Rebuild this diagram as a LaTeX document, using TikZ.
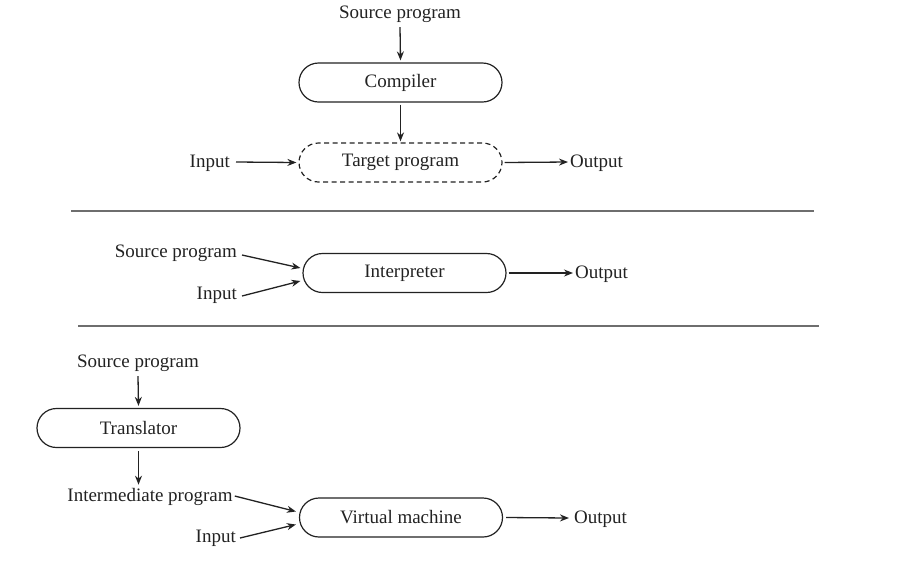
\documentclass[tikz,border=0pt]{standalone}
\usepackage{fontspec}
\setmainfont{Liberation Serif}
\usetikzlibrary{shapes.misc,arrows.meta}
\definecolor{ink}{HTML}{222222}
\definecolor{rule}{HTML}{6E6E6E}
\begin{document}
\begin{tikzpicture}[x=1pt,y=-1pt,
  every node/.style={text=ink,font=\fontsize{19}{22}\selectfont},
  proc/.style={rounded rectangle,draw=ink,line width=1.2pt,minimum width=203pt,minimum height=39pt,inner sep=0pt},
  lbl/.style={inner sep=0pt},
  arr/.style={draw=ink,line width=1.3pt,-{Stealth[length=9pt,width=7pt]}},
  sep/.style={draw=rule,line width=1.6pt}]
\useasboundingbox (0,0) rectangle (904,566);
% --- compiler
\node[lbl] (src1) at (400,14.5) {Source program};
\node[proc] (comp) at (400.5,82.5) {Compiler};
\node[proc,dashed,dash pattern=on 5pt off 3.5pt] (tgt) at (400.5,162.5) {Target program};
\node[lbl,anchor=east] (in1) at (230,163.5) {Input};
\node[lbl,anchor=west] (out1) at (570,163.5) {Output};
\draw[arr] ([yshift=-4pt]src1.south) -- ([yshift=2pt]comp.north);
\draw[arr] ([yshift=-2pt]comp.south) -- ([yshift=1pt]tgt.north);
\draw[arr] ([xshift=6pt,yshift=1.5pt]in1.east) -- ([xshift=-2pt]tgt.west);
\draw[arr] ([xshift=2pt]tgt.east) -- ([xshift=-2pt,yshift=1.5pt]out1.west);
% separator
\coordinate (r1a) at (71,211); \coordinate (r1b) at (814,211);
\draw[sep] (r1a) -- (r1b);
% --- interpreter
\node[proc] (interp) at (404.5,273) {Interpreter};
\node[lbl,anchor=east] (src2) at (237,253.5) {Source program};
\node[lbl,anchor=east] (in2) at (237,295.5) {Input};
\node[lbl,anchor=west] (out2) at (575,274.5) {Output};
\draw[arr] ([xshift=5pt,yshift=-1.5pt]src2.east) -- ([xshift=-2pt,yshift=5pt]interp.west);
\draw[arr] ([xshift=5pt,yshift=-0.5pt]in2.east) -- ([xshift=-2pt,yshift=-8pt]interp.west);
\draw[arr] ([xshift=2pt]interp.east) -- ([xshift=-2pt,yshift=1.5pt]out2.west);
% separator
\coordinate (r2a) at (78,326); \coordinate (r2b) at (819,326);
\draw[sep] (r2a) -- (r2b);
% --- translator / virtual machine
\node[lbl] (src3) at (138,363.5) {Source program};
\node[proc] (trans) at (138.5,428) {Translator};
\node[lbl] (inter) at (150,496.5) {Intermediate program};
\node[proc] (vm) at (401,517.5) {Virtual machine};
\node[lbl,anchor=east] (in3) at (236,538.5) {Input};
\node[lbl,anchor=west] (out3) at (574,519.5) {Output};
\coordinate (ia) at (trans.south |- inter.north);
\draw[arr] ([yshift=-4pt]src3.south) -- ([yshift=2pt]trans.north);
\draw[arr] ([yshift=-3pt]trans.south) -- ([yshift=3pt]ia);
\draw[arr] ([xshift=2pt,yshift=0.5pt]inter.east) -- ([xshift=-3pt,yshift=6pt]vm.west);
\draw[arr] ([xshift=4pt,yshift=0.5pt]in3.east) -- ([xshift=-3pt,yshift=-7pt]vm.west);
\draw[arr] ([xshift=3pt]vm.east) -- ([xshift=-5pt,yshift=1.5pt]out3.west);
\end{tikzpicture}
\end{document}
